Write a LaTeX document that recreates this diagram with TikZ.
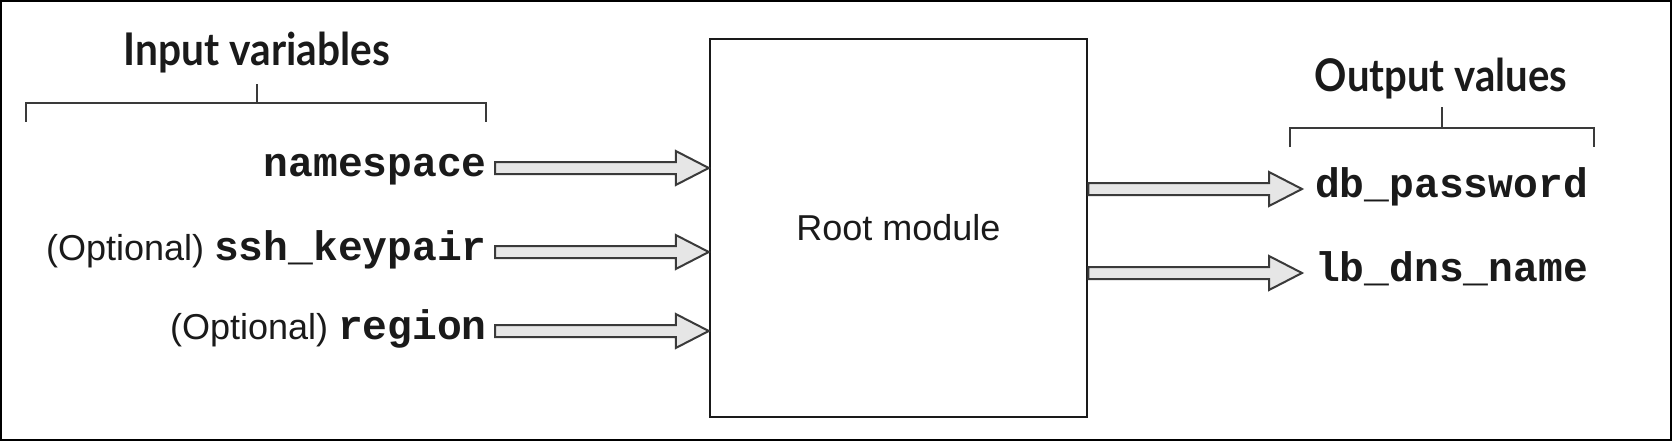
\documentclass[tikz,border=0pt]{standalone}
\usepackage{fontspec}
\usepackage{graphicx}
\setmainfont{Liberation Sans}
\newfontfamily\monof{Liberation Mono}
\newfontfamily\titlef{Lato}
\usetikzlibrary{calc}
\definecolor{ink}{HTML}{1A1A1A}
\definecolor{edge}{HTML}{3A3A3A}
\definecolor{shaft}{HTML}{E6E6E6}
\newcommand\fatarr[2]{%
  \draw[fatarrow] ($(#1)+(0,-6)$) -- ($(#2)+(-33,-6)$) -- ($(#2)+(-33,-17)$) -- (#2)
    -- ($(#2)+(-33,17)$) -- ($(#2)+(-33,6)$) -- ($(#1)+(0,6)$) -- cycle;}
\newcommand\optl{{\fontsize{36}{42}\selectfont\mdseries\rmfamily (Optional)\ }}
\begin{document}
\begin{tikzpicture}[x=1pt,y=-1pt,
  fatarrow/.style={draw=edge,fill=shaft,line width=2pt,line join=miter},
  bracketline/.style={draw=edge,line width=2.5pt},
  monotxt/.style={inner sep=0pt,text=ink,font=\fontsize{41.3}{46}\selectfont\monof\bfseries},
  sanstxt/.style={inner sep=0pt,text=ink,font=\fontsize{36}{42}\selectfont},
  titletxt/.style={inner sep=0pt,text=ink}]
\useasboundingbox (0,0) rectangle (1672,441);
\draw[black,line width=2pt] (1,1) rectangle (1671,440);
% root box
\node[draw=ink,line width=2.5pt,minimum width=377pt,minimum height=378pt,inner sep=0pt,sanstxt] (root) at (898.5,228) {Root module};
% titles
\node[titletxt,anchor=north] (tin) at (257,32) {\resizebox*{266pt}{41pt}{\titlef\bfseries Input variables}};
\node[titletxt,anchor=north] (tout) at (1441,58) {\resizebox*{252pt}{41pt}{\titlef\bfseries Output values}};
% brackets
\coordinate (bl1) at (26,122);
\coordinate (bl2) at (26,103);
\coordinate (br2) at (486,103);
\coordinate (br1) at (486,122);
\coordinate (bt1) at (257,103);
\coordinate (bt2) at (257,84);
\draw[bracketline] (bl1) -- (bl2) -- (br2) -- (br1);
\draw[bracketline] (bt1) -- (bt2);
\coordinate (ol1) at (1290,147);
\coordinate (ol2) at (1290,128);
\coordinate (or2) at (1594,128);
\coordinate (or1) at (1594,147);
\coordinate (ot1) at (1442,128);
\coordinate (ot2) at (1442,107);
\draw[bracketline] (ol1) -- (ol2) -- (or2) -- (or1);
\draw[bracketline] (ot1) -- (ot2);
% input labels
\node[monotxt,anchor=base east] (ns) at (487,176) {namespace};
\node[monotxt,anchor=base east] (ssh) at (487,260) {\optl ssh\_keypair};
\node[monotxt,anchor=base east] (reg) at (487,339) {\optl region};
% output labels
\node[monotxt,anchor=base west] (dbp) at (1315,197) {db\_password};
\node[monotxt,anchor=base west] (lbd) at (1315,281) {lb\_dns\_name};
% arrow ends
\coordinate (a1s) at (495,168);
\coordinate (a2s) at (495,252);
\coordinate (a3s) at (495,331);
\coordinate (a1t) at (root.west |- a1s);
\coordinate (a2t) at (root.west |- a2s);
\coordinate (a3t) at (root.west |- a3s);
\coordinate (b1s) at (root.east |- 0,189);
\coordinate (b2s) at (root.east |- 0,273);
\coordinate (b1t) at (1302,189);
\coordinate (b2t) at (1302,273);
\fatarr{a1s}{a1t}
\fatarr{a2s}{a2t}
\fatarr{a3s}{a3t}
\fatarr{b1s}{b1t}
\fatarr{b2s}{b2t}
\end{tikzpicture}
\end{document}
